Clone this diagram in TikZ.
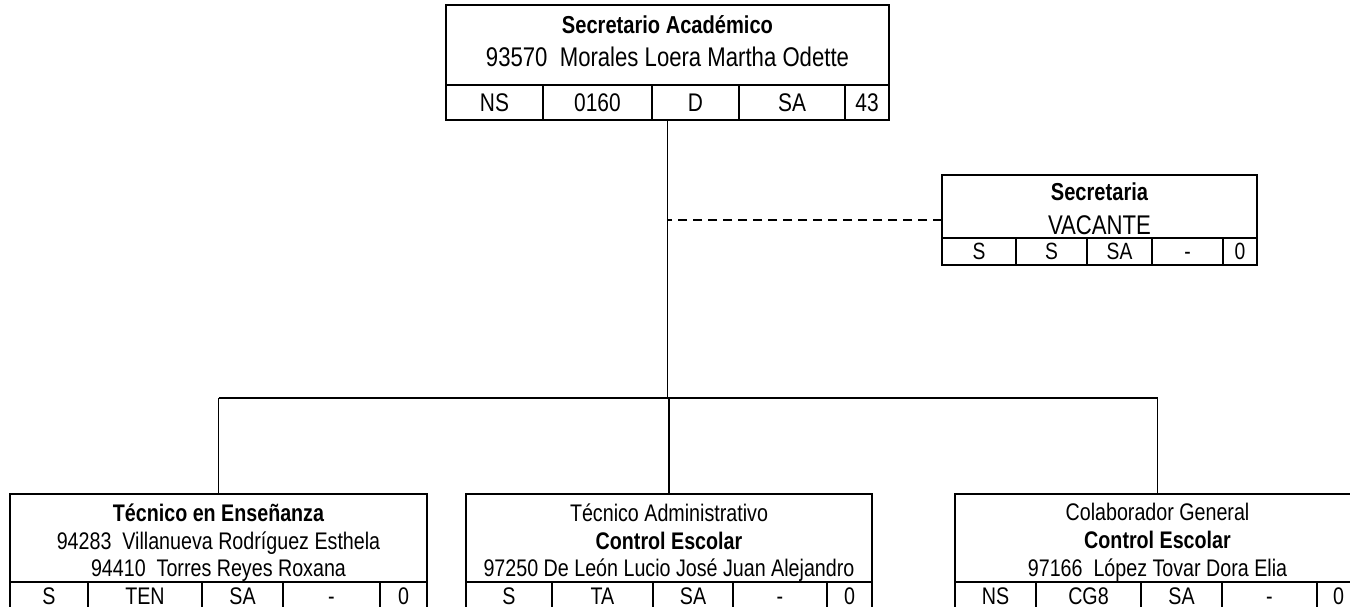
\documentclass[tikz,border=0pt]{standalone}
\usepackage{fontspec}
\setmainfont{Liberation Sans}[FakeStretch=0.82]
\usetikzlibrary{positioning, fit}
\definecolor{colLine}{RGB}{0,0,0}
\definecolor{colText}{RGB}{0,0,0}
\tikzset{
  box/.style={
    rectangle, draw=colLine, line width=1.8pt,
    inner sep=0pt, outer sep=0pt, text=colText
  },
  headBox/.style={box, anchor=north west},
  frameBox/.style={box, fill=none},
  topCell/.style={box, minimum height=35pt, text height=18.3pt, text depth=0pt,
    font=\fontsize{25.5}{30}\selectfont},
  secCell/.style={box, minimum height=27pt, text height=16.8pt, text depth=0pt,
    font=\fontsize{23.5}{28}\selectfont},
  botCell/.style={box, minimum height=27pt, text height=17.2pt, text depth=0pt,
    font=\fontsize{24}{28}\selectfont},
  titleText/.style={anchor=base, inner sep=0pt, font=\fontsize{24.5}{28}\selectfont\bfseries},
  nameText/.style={anchor=base, inner sep=0pt, font=\fontsize{27}{32}\selectfont},
  botText/.style={anchor=base, inner sep=0pt, font=\fontsize{24}{28}\selectfont},
  conn/.style={draw=colLine, line width=1.1pt},
  dashLine/.style={conn, dash pattern=on 9pt off 6pt}
}

\begin{document}
\begin{tikzpicture}[x=1pt, y=-1pt]

  \useasboundingbox (0,0) rectangle (1350,607);
  \clip (0,0) rectangle (1350,607);

  % Secretario Academico
  \node[headBox, minimum width=443pt, minimum height=80pt] (saHead) at (446,5) {};
  \node[topCell, minimum width=97pt, anchor=north west] (sa1) at (saHead.south west) {NS};
  \node[topCell, minimum width=109pt, right=0pt of sa1] (sa2) {0160};
  \node[topCell, minimum width=87pt, right=0pt of sa2] (sa3) {D};
  \node[topCell, minimum width=106pt, right=0pt of sa3] (sa4) {SA};
  \node[topCell, minimum width=44pt, right=0pt of sa4] (sa5) {43};
  \node[frameBox, fit=(saHead)(sa1)(sa5)] (sa) {};
  \node[titleText] (saL1) at (667.5,33.5) {Secretario Académico};
  \node[nameText] (saL2) at (667.5,66.5) {93570\ \ Morales Loera Martha Odette};

  % Secretaria
  \node[headBox, minimum width=315pt, minimum height=63pt] (secHead) at (942,175) {};
  \node[secCell, minimum width=74pt, anchor=north west] (sec1) at (secHead.south west) {S};
  \node[secCell, minimum width=71pt, right=0pt of sec1] (sec2) {S};
  \node[secCell, minimum width=65pt, right=0pt of sec2] (sec3) {SA};
  \node[secCell, minimum width=71pt, right=0pt of sec3] (sec4) {-};
  \node[secCell, minimum width=34pt, right=0pt of sec4] (sec5) {0};
  \node[frameBox, fit=(secHead)(sec1)(sec5)] (sec) {};
  \node[titleText] (secL1) at (1099.5,200.5) {Secretaria};
  \node[nameText] (secL2) at (1099.5,234.5) {VACANTE};

  % Tecnico en Ensenanza
  \node[headBox, minimum width=417pt, minimum height=88pt] (tenHead) at (10,494) {};
  \node[botCell, minimum width=78pt, anchor=north west] (ten1) at (tenHead.south west) {S};
  \node[botCell, minimum width=114pt, right=0pt of ten1] (ten2) {TEN};
  \node[botCell, minimum width=81pt, right=0pt of ten2] (ten3) {SA};
  \node[botCell, minimum width=97pt, right=0pt of ten3] (ten4) {-};
  \node[botCell, minimum width=47pt, right=0pt of ten4] (ten5) {0};
  \node[frameBox, fit=(tenHead)(ten1)(ten5)] (ten) {};
  \node[botText] (tenL1) at (218.5,521) {\bfseries Técnico en Enseñanza};
  \node[botText] (tenL2) at (218.5,549) {94283\ \ Villanueva Rodríguez Esthela};
  \node[botText] (tenL3) at (218.5,576) {94410\ \ Torres Reyes Roxana};

  % Tecnico Administrativo
  \node[headBox, minimum width=406pt, minimum height=88pt] (tadHead) at (466,494) {};
  \node[botCell, minimum width=86pt, anchor=north west] (tad1) at (tadHead.south west) {S};
  \node[botCell, minimum width=101pt, right=0pt of tad1] (tad2) {TA};
  \node[botCell, minimum width=80pt, right=0pt of tad2] (tad3) {SA};
  \node[botCell, minimum width=94pt, right=0pt of tad3] (tad4) {-};
  \node[botCell, minimum width=45pt, right=0pt of tad4] (tad5) {0};
  \node[frameBox, fit=(tadHead)(tad1)(tad5)] (tad) {};
  \node[botText] (tadL1) at (669,521) {Técnico Administrativo};
  \node[botText] (tadL2) at (669,549) {\bfseries Control Escolar};
  \node[botText] (tadL3) at (669,576) {97250 De León Lucio José Juan Alejandro};

  % Colaborador General
  \node[headBox, minimum width=405pt, minimum height=88pt] (cgeHead) at (955,494) {};
  \node[botCell, minimum width=81pt, anchor=north west] (cge1) at (cgeHead.south west) {NS};
  \node[botCell, minimum width=105pt, right=0pt of cge1] (cge2) {CG8};
  \node[botCell, minimum width=81pt, right=0pt of cge2] (cge3) {SA};
  \node[botCell, minimum width=95pt, right=0pt of cge3] (cge4) {-};
  \node[botCell, minimum width=43pt, right=0pt of cge4] (cge5) {0};
  \node[frameBox, fit=(cgeHead)(cge1)(cge5)] (cge) {};
  \node[botText] (cgeL1) at (1157.5,520) {Colaborador General};
  \node[botText] (cgeL2) at (1157.5,548) {\bfseries Control Escolar};
  \node[botText] (cgeL3) at (1157.5,576) {97166\ \ López Tovar Dora Elia};

  % connectors
  \coordinate (bus) at (0,398);
  \draw[conn] (sa.south) -- (sa.south |- bus);
  \draw[conn] (ten.north |- bus) -- (cge.north |- bus);
  \draw[conn] (ten.north |- bus) -- (ten.north);
  \draw[conn] (tad.north |- bus) -- (tad.north);
  \draw[conn] (cge.north |- bus) -- (cge.north);
  \draw[dashLine] (sec.west) -- (sec.west -| sa.south);

\end{tikzpicture}
\end{document}
